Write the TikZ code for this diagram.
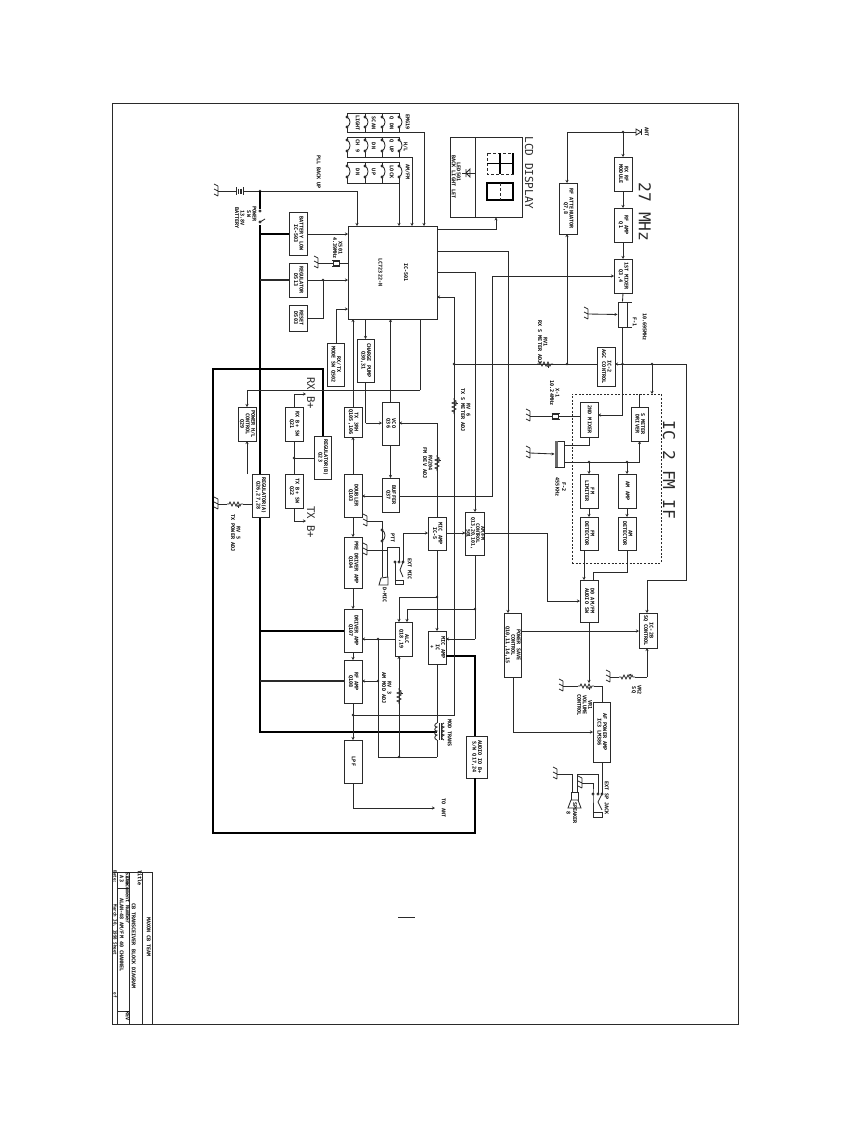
\documentclass[tikz,border=0pt]{standalone}
\usepackage{fontspec}
\setmainfont{DejaVu Sans Mono}
\usetikzlibrary{arrows.meta}
\pgfdeclarelayer{rail}
\pgfsetlayers{rail,main}
\definecolor{ln}{HTML}{2A2A2A}
\newcommand\rot[1]{\rotatebox{-90}{\begin{tabular}{@{}c@{}}#1\end{tabular}}}
\newcommand\bx[6]{\node[blk,minimum width={(#4-#2)*1pt},minimum height={(#5-#3)*1pt}] (#1) at ({(#2+#4)/2},{(#3+#5)/2}) {\rot{#6}};}
\newcommand\lbt[4]{\node[lbl] (#1) at (#2,#3) {\rot{#4}};}
\newcommand\bigt[4]{\node[biglbl] (#1) at (#2,#3) {\rotatebox{-90}{#4}};}
\newcommand\jn[2]{\fill[ln] (#1,#2) circle (1.3pt);}
\newcommand\gn[2]{\draw[wire] (#1,#2-5)--(#1,#2+5) (#1,#2-5)--(#1-4,#2-7) (#1,#2)--(#1-4,#2-2) (#1,#2+5)--(#1-4,#2+3);}
\newcommand\swc[5]{\draw[wire] (#1,#2)--(#1,#3) (#1,#4)--(#1,#5);
 \draw[wire,fill=white] (#1,#3) circle (1.1pt) (#1,#4) circle (1.1pt);
 \draw[wire] (#1,#3) .. controls (#1+4,#3+2) and (#1+4,#4-2) .. (#1,#4);}
\tikzset{
 wire/.style={draw=ln,line width=0.85pt},
 heavy/.style={draw=black,line width=2.2pt},
 arr/.style={wire,-{Stealth[length=3pt,width=3pt]}},
 blk/.style={draw=ln,line width=1pt,fill=white,inner sep=0pt,outer sep=0pt,font=\bfseries\fontsize{5.1}{5.6}\selectfont},
 lbl/.style={inner sep=0pt,outer sep=0pt,font=\bfseries\fontsize{5.1}{5.6}\selectfont},
 biglbl/.style={inner sep=0pt,outer sep=0pt,font=\fontsize{16.3}{17}\selectfont,text=ln},
 frame/.style={draw=ln,line width=0.9pt},
 varres/.pic={\draw[wire] (-8,0)--(-6,0)--(-5,-2)--(-3,2)--(-1,-2)--(1,2)--(3,-2)--(5,2)--(6,0)--(8,0);
   \draw[wire,-{Stealth[length=2.5pt,width=2.5pt]}] (3,3.5)--(3,0.5);},
 xtal/.pic={\draw[wire] (-3,-4)--(-3,4) (3,-4)--(3,4); \draw[wire,fill=white] (-2,-3) rectangle (2,3);},
}
\begin{document}
\begin{tikzpicture}[x=1pt,y=-1pt]
\useasboundingbox (0,0) rectangle (866,1122);
% sheet frame and title block
\draw[frame] (112,103) rectangle (738,1024);
\draw[wire] (152,872)--(152,1024) (142,872)--(142,1024) (112,872)--(152,872)
 (129,872)--(129,1024) (117,872)--(117,1024) (117,888)--(129,888) (117,1011)--(129,1011);
\lbt{t1}{148}{937}{MAXON CB TEAM}
\lbt{t2}{139}{878}{Title}
\lbt{t3}{133}{946}{CB TRANSCEIVER BLOCK DIAGRAM}
\lbt{t4}{127}{879}{Size}
\lbt{t5}{121}{879}{A3}
\lbt{t6}{127}{901}{Document Number}
\lbt{t7}{121}{935}{ALAN-48 AM/FM 40 CHANNEL}
\lbt{t8}{127}{1016}{REV}
\node[lbl,font=\bfseries\fontsize{4.2}{4.6}\selectfont] (t9) at (114.5,877) {\rot{Date:}};
\node[lbl,font=\bfseries\fontsize{4.2}{4.6}\selectfont] (t10) at (114.5,930) {\rot{March 30, 1998 Sheet}};
\node[lbl,font=\bfseries\fontsize{4.2}{4.6}\selectfont] (t11) at (114.5,995) {\rot{of}};
\draw[wire] (398,917)--(415,917);
% heavy supply rail that runs behind the regulator box
\begin{pgfonlayer}{rail}
\draw[heavy] (260,225)--(260,732)--(437,732);
\end{pgfonlayer}
% boxes
\bx{bat}{289}{212}{307}{255}{BATTERY LOW\\IC-503}
\bx{rgd}{289}{263}{307}{297}{REGULATOR\\D513}
\bx{rst}{289}{305}{307}{331}{RESET\\D503}
\bx{ic}{348}{226}{437}{319}{IC-501\\[20pt]LC72322-N}
\bx{mode}{327}{343}{344}{386}{RX/TX\\MODE SW Q502}
\bx{cp}{357}{339}{374}{382}{CHARGE PUMP\\Q30,31}
\bx{tx}{344}{407}{362}{437}{TX 3RH\\Q105,106}
\bx{vco}{382}{402}{399}{445}{VCO\\Q36}
\bx{buf}{382}{478}{399}{512}{BUFFER\\Q37}
\bx{dbl}{344}{474}{362}{517}{DOUBLER\\Q103}
\bx{pre}{344}{537}{362}{588}{PRE DRIVER AMP\\Q104}
\bx{drv}{344}{609}{362}{652}{DRIVER AMP\\Q107}
\bx{rfa}{344}{660}{362}{703}{RF AMP\\Q108}
\bx{lpf}{344}{740}{362}{783}{LPF}
\bx{pwr}{238}{407}{256}{441}{POWER H/L\\CONTROL\\Q29}
\bx{rga}{252}{474}{269}{517}{REGULATOR(A)\\Q26,27,28}
\bx{rxs}{285}{407}{303}{441}{RX B+ SW\\Q21}
\bx{txs}{285}{474}{303}{508}{TX B+ SW\\Q22}
\bx{rgb}{314}{436}{331}{479}{REGULATOR(B)\\Q23}
\bx{mic}{428}{517}{446}{550}{MIC AMP\\IC-5}
\bx{alc}{395}{622}{412}{656}{ALC\\Q18,19}
\bx{mod}{428}{631}{446}{664}{MIC AMP\\IC\\+}
\node[blk,font=\bfseries\fontsize{4.9}{5.6}\selectfont\def\arraystretch{.72},minimum width=16pt,minimum height=43pt] (ctl) at (475,533.5) {\rot{AM/FM\\CONTROL\\Q13,20,101,\\501}};
\bx{sav}{504}{613}{521}{677}{POWER SAVE\\CONTROL\\Q10,11,14,15}
\bx{dd}{580}{580}{598}{622}{D0 AM/FM\\AUDIO SW}
\bx{sq}{639}{613}{657}{648}{IC-2B\\SQ CONTROL}
\bx{af}{593}{702}{610}{762}{AF POWER AMP\\IC3 LM386}
\bx{agc}{597}{347}{615}{386}{IC-2\\AGC CONTROL}
\bx{mx2}{580}{402}{598}{437}{2ND MIXER}
\bx{sm}{631}{407}{648}{441}{S METER\\DRIVER}
\bx{lim}{580}{474}{598}{508}{FM\\LIMITER}
\bx{ama}{618}{474}{636}{508}{AM AMP}
\bx{fmd}{580}{517}{598}{550}{FM\\DETECTOR}
\bx{amd}{618}{517}{636}{550}{AM\\DETECTOR}
\bx{att}{559}{183}{577}{234}{RF ATTENUATOR\\Q7,8}
\bx{rxm}{614}{157}{632}{191}{RX RF\\MODULE}
\bx{rf1}{614}{208}{632}{242}{RF AMP\\Q1}
\bx{mx1}{614}{259}{632}{293}{1ST MIXER\\Q3,4}
\bx{aud}{466}{736}{487}{778}{AUDIO IO B+\\S/W Q17,24}
\node[draw=ln,line width=0.9pt,dash pattern=on 2pt off 1.6pt,minimum width=89pt,minimum height=169pt,inner sep=0pt] (if2) at (616.5,478.5) {};
% LCD
\node[frame,minimum width=72pt,minimum height=80pt,inner sep=0pt] (lcd) at (486,177) {};
\draw[wire] (475,137)--(475,217);
\draw[wire,densely dashed] (487,153) rectangle (513,174);
\draw[line width=1.4pt] (500,153)--(500,174) (487,163.5)--(513,163.5) (513,153)--(513,174);
\draw[line width=1.4pt] (487,183) rectangle (513,200);
\draw[wire,densely dashed] (500,183)--(500,200);
\draw[wire] (462,173)--(475,173);
\draw[wire] (470,169)--(470,177)--(466,173)--cycle (466,169)--(466,177);
\lbt{led}{458}{172}{LED501}
\lbt{ledb}{453}{177}{BACK LIGHT LET}
\node[biglbl,font=\fontsize{11}{12}\selectfont] (lcdt) at (529,173) {\rotatebox{-90}{LCD DISPLAY}};
\bigt{mhz}{645}{212}{27 MHz}
\bigt{ift}{669}{470}{IC 2 FM IF}
\node[biglbl,font=\fontsize{10.6}{12}\selectfont] (rxb) at (311,393) {\rotatebox{-90}{RX B+}};
\node[biglbl,font=\fontsize{10.6}{12}\selectfont] (txb) at (311,522) {\rotatebox{-90}{TX B+}};
% switch banks
\draw[wire] (347,113)--(399,113) (347,137)--(399,137) (347,162)--(399,162)
 (347,132)--(424,132) (347,157)--(412,157) (347,183)--(399,183);
\foreach \c in {347,365,382,399}{
 \swc{\c}{113}{117}{127}{132}
 \swc{\c}{137}{140}{151}{157}
 \swc{\c}{162}{166}{177}{183}}
\draw[arr] (424,132)--(ic.north -| 424,0);
\draw[arr] (412,157)--(ic.north -| 412,0);
\draw[arr] (399,183)--(ic.north -| 399,0);
\lbt{s1}{357}{123}{LIGHT}\lbt{s2}{373}{123}{SCAN}\lbt{s3}{391}{123}{Q DN}\lbt{s4}{407}{122}{EMG19}
\lbt{s5}{357}{146}{CH 9}\lbt{s6}{373}{146}{DN}\lbt{s7}{391}{146}{Q UP}\lbt{s8}{405}{147}{H/L}
\lbt{s9}{357}{172}{DN}\lbt{s10}{373}{172}{UP}\lbt{s11}{391}{172}{LOCK}\lbt{s12}{407}{172}{AM/FM}
% battery, power switch
\gn{218}{191}
\draw[wire] (218,191)--(236,191) (243,191)--(260,191);
\draw[line width=0.9pt,draw=ln] (236,187)--(236,195) (243,187)--(243,195);
\draw[line width=1.5pt,draw=ln] (238.5,188.5)--(238.5,193.5) (241,188.5)--(241,193.5);
\draw[arr] (260,191) -| (ic.north -| 357,0);
\jn{260}{191}
\draw[heavy] (260,191)--(260,209);
\draw[wire,fill=white] (260,211) circle (1.1pt) (260,222) circle (1.1pt);
\draw[wire] (260,222)--(265,219);
\lbt{b1}{239}{218}{13.8V\\BATTERY}
\lbt{b2}{251}{214}{POWER\\SW}
\lbt{b3}{318}{172}{PLL BACK UP}
% power rails to boxes
\draw[heavy] (260,234)--(bat.west |- 0,234);
\draw[wire,line width=1.3pt] (260,280)--(rgd.west |- 0,280);
\draw[heavy] (260,631)--(drv.west |- 0,631);
\draw[wire,line width=1.3pt] (260,681)--(rfa.west |- 0,681);
\draw[heavy] (rgb.north -| 323,0)--(323,369)--(213,369)--(213,833)--(475,833)--(aud.south -| 475,0);
\draw[heavy] (aud.north -| 475,0)--(475,656)--(mod.east |- 0,656);
% IC connections, left
\draw[arr] (bat.east |- 0,234)--(ic.west |- 0,234);
\draw[arr] (rgd.east |- 0,280)--(ic.west |- 0,280);
\jn{323}{280}
\draw[wire] (323,280)--(323,318)--(rst.east |- 0,318);
\draw[arr] (mode.north -| 336,0)--(336,309)--(ic.west |- 0,309);
\gn{318}{263}
\draw[wire] (318,263)--(333,263) (339,263)--(ic.west |- 0,263);
\pic at (336,263) [rotate=90] {xtal};
\lbt{x1}{337}{248}{X501\\4.39MHz}
% IC connections, bottom
\draw[arr] (tx.north)--(ic.south -| tx.north);
\draw[arr] (ic.south -| cp.north)--(cp.north);
\draw[arr] (vco.north)--(ic.south -| vco.north);
\draw[wire] (ic.south -| 420,0)--(420,390);
\draw[arr] (420,390) -| (pwr.north -| 247,0);
\draw[wire] (cp.south)--(cp.south |- 0,423);
\draw[arr] (cp.south |- 0,423)--(vco.west |- 0,423);
\draw[arr] (vco.south)--(buf.north);
\draw[arr] (dbl.north)--(tx.south);
\draw[arr] (dbl.south)--(pre.north);
\draw[arr] (pre.south)--(drv.north);
\draw[arr] (drv.south)--(rfa.north);
\draw[arr] (rfa.south)--(lpf.north);
\jn{353}{715}
\draw[arr] (lpf.south)--(353,808)--(435,808);
\lbt{ant2}{443}{808}{TO ANT}
% IC connections, right
\draw[arr] (ic.east |- 0,229)--(496,229)--(lcd.south -| 496,0);
\draw[arr] (ic.east |- 0,251)-|(sav.north -| 508,0);
\draw[arr] (ic.east |- 0,272)-|(ctl.north);
\draw[wire] (buf.east |- 0,496)--(492,496)--(492,276);
\draw[arr] (492,276)--(mx1.west |- 0,276);
\draw[arr] (buf.west |- 0,496)--(dbl.east |- 0,496);
\draw[wire] (353,715)--(454,715)--(454,297);
\draw[arr] (454,297)--(ic.east |- 0,297);
\pic at (454,406) [rotate=90] {varres};
\lbt{r6}{465}{410}{RV 6\\TX S METER ADJ}
% receive front end
\coordinate (antp) at (636,132);
\draw[wire] (antp)--(567,132);
\draw[arr] (567,132)--(att.north -| 567,0);
\draw[arr] (623,132)--(rxm.north);
\jn{623}{132}
\draw[wire,fill=white] (636,129)--(641,132)--(636,135)--cycle;
\draw[wire] (641,129)--(641,135);
\lbt{ant1}{646}{132}{ANT}
\draw[arr] (rxm.south)--(rf1.north);
\draw[arr] (rf1.south)--(mx1.north);
\node[draw=ln,line width=1pt,fill=white,minimum width=9pt,minimum height=25pt,inner sep=0pt] (f1) at (622.5,314.5) {};
\draw[wire] (mx1.south)--(f1.north);
\draw[wire] (f1.south)--(622.5,364);
\draw[arr] (622.5,364)--(622.5,415)--(mx2.east |- 0,415);
\jn{622.5}{364}
\gn{588}{314}
\draw[arr] (588,314)--(f1.west);
\draw[wire] (627,302)--(632,302) (627,327)--(632,327);
\lbt{f1a}{634}{322}{F-1}
\lbt{f1b}{644}{327}{10.695MHz}
\draw[wire] (agc.west |- 0,364)--(454,364);
\draw[arr] (686,364)--(agc.east |- 0,364);
\jn{454}{364}
\jn{567}{364}
\draw[arr] (567,364)--(att.south -| 567,0);
\pic at (545,364) {varres};
\lbt{r1}{542}{342}{RV1\\RX S METER ADJ}
% IC2
\draw[wire] (686,364)--(686,580)--(647,580);
\draw[arr] (647,580)--(sq.north -| 647,0);
\jn{652}{364}
\draw[arr] (652,364)--(652,394);
\draw[wire] (639,394)--(sm.north -| 639,0);
\gn{530}{416}
\draw[wire] (530,416)--(552,416) (559,416)--(mx2.west |- 0,416);
\pic at (555.5,416) [rotate=90] {xtal};
\lbt{x2}{554}{393}{X-1\\10.24MHz}
\node[draw=ln,line width=1pt,fill=white,minimum width=9pt,minimum height=26pt,inner sep=0pt] (f2) at (559.5,454) {};
\fill[ln!70] (555,441) rectangle (558,467);
\gn{530}{453}
\draw[arr] (530,453)--(f2.west);
\draw[wire] (f2.east |- 0,445)--(589,445)--(mx2.south -| 589,0);
\draw[wire] (f2.east |- 0,462)--(639.5,462);
\draw[arr] (639.5,462)--(sm.south -| 639.5,0);
\draw[arr] (589,462)--(lim.north);
\draw[arr] (627,462)--(ama.north);
\jn{589}{462}\jn{627}{462}
\lbt{f2a}{560}{487}{F-2\\[1pt]455KHz}
\draw[arr] (lim.south)--(fmd.north);
\draw[arr] (ama.south)--(amd.north);
\draw[arr] (584,550)--(dd.north -| 584,0);
\draw[wire] (amd.south)--(627,572)--(593,572)--(dd.north -| 593,0);
% AM/FM control, audio
\draw[arr] (mic.east |- 0,533)--(ctl.west |- 0,533);
\draw[wire] (ctl.east |- 0,533)--(547,533);
\draw[arr] (547,533)--(547,601)--(dd.west |- 0,601);
\draw[wire] (ctl.south)--(475,639);
\draw[arr] (475,639)--(mod.east |- 0,639);
\jn{475}{609}
\draw[arr] (475,609)--(407,609)--(alc.north -| 407,0);
\draw[arr] (sav.east |- 0,631)--(sq.west |- 0,631);
\draw[wire] (sav.south -| 513,0)--(513,732);
\draw[arr] (513,732)--(af.west |- 0,732);
\draw[arr] (dd.south -| 589,0)--(589,683);
\gn{563}{686}
\pic at (586,686) {varres};
\draw[wire] (563,686)--(578,686) (594,686)--(602,686)--(af.north -| 602,0);
\lbt{vr}{584}{705}{VR1\\VOLUME\\CONTROL}
\gn{610}{677}
\pic at (627,677) [yscale=-1] {varres};
\draw[wire] (610,677)--(619,677) (635,677)--(647,677);
\draw[arr] (647,677)--(sq.south -| 647,0);
\lbt{vs}{636}{690}{VR2\\SQ}
% speaker
\draw[wire] (af.south -| 602,0)--(602,794);
\draw[wire] (598,794)--(598,774)--(577,774)--(577,792);
\gn{557}{774}
\draw[wire] (557,774)--(572,774)--(572,792);
\gn{582}{783}
\draw[wire] (582,783)--(593,783)--(593,794)--(593,812);
\draw[wire,fill=white] (571,792) rectangle (578,800);
\draw[wire,fill=white] (571,800)--(578,800)--(581,808)--(568,808)--cycle;
\draw[wire,fill=white] (593,794) circle (1.1pt) (598,794) circle (1.1pt) (602,794) circle (1.1pt);
\draw[wire] (602,794)--(598,802)--(602,810);
\draw[wire] (593,812) rectangle (602,817);
\lbt{ej}{606}{798}{EXT SP JACK}
\lbt{spk}{571}{813}{SPEAKER\\[1pt]8}
% mic section
\draw[wire] (403,533)--(403,562);
\draw[arr] (403,533)--(mic.west |- 0,533);
\gn{367}{521}
\draw[wire] (367,521)--(382,521)--(382,577);
\draw[wire,fill=white] (382,530) circle (1.1pt) (382,541) circle (1.1pt);
\draw[wire] (382,530)..controls (386,532) and (386,539)..(382,541);
\lbt{ptt}{392}{538}{PTT}
\gn{367}{550}
\draw[wire] (367,550)--(387,550);
\draw[wire] (387,577)--(387,547)--(399,547)--(399,562);
\draw[wire,fill=white] (379,585)--(381,578)--(388,577)--(388,585)--cycle;
\lbt{dm}{384}{595}{D-MIC}
\draw[wire,fill=white] (395,562) circle (1.1pt) (399,562) circle (1.1pt) (403,562) circle (1.1pt);
\draw[wire] (395,562)--(395,580);
\draw[wire] (403,562)--(400,570)--(403,577);
\draw[wire] (395,580) rectangle (403,584);
\lbt{em}{409}{569}{EXT MIC}
% VCO / modulation chain
\draw[arr] (437,423)--(vco.east |- 0,423);
\draw[wire] (437,423)--(mic.north);
\pic at (437,463) [rotate=90] {varres};
\lbt{r204}{427}{463}{RV204\\FM DEV ADJ}
\draw[arr] (mic.south)--(mod.north);
\jn{437}{597}
\draw[arr] (437,597)--(399,597)--(alc.north -| 399,0);
\draw[arr] (alc.west |- 0,639)--(drv.east |- 0,639);
\jn{378}{639}
\draw[wire] (378,639)--(378,757)--(437,757);
\jn{378}{681}
\draw[arr] (378,681)--(rfa.east |- 0,681);
\jn{399}{757}
\draw[arr] (399,757)--(alc.south -| 399,0);
\pic at (399,696) [rotate=90] {varres};
\lbt{r3}{386}{688}{RV 3\\AM MOD ADJ}
\draw[wire] (mod.south)--(437,723) (437,740)--(437,757);
\draw[wire] (437,723) .. controls (434,724) and (434,727) .. (437,727) .. controls (434,728) and (434,731) .. (437,731) .. controls (434,732) and (434,735) .. (437,735) .. controls (434,736) and (434,739) .. (437,740);
\draw[wire] (439.5,723)--(439.5,740) (441,723)--(441,740);
\draw[wire] (444,723) .. controls (441,724) and (441,727) .. (444,727) .. controls (441,728) and (441,731) .. (444,731) .. controls (441,732) and (441,735) .. (444,735) .. controls (441,736) and (441,739) .. (444,740);
\lbt{mt}{449}{733}{MOD TRANS}
% power distribution on the transmit side
\draw[arr] (rga.north -| 247,0)--(pwr.south -| 247,0);
\draw[wire] (rga.west |- 0,504)--(243,504);
\pic at (235,504) {varres};
\draw[wire] (227,504)--(218,504);
\gn{218}{504}
\lbt{r5}{235}{533}{RV 5\\TX POWER ADJ}
\draw[arr] (rxs.north)--(rxs.north |- 0,394)--(306,394);
\draw[wire] (rxs.south)--(txs.north);
\jn{294}{458}
\draw[wire] (294,458)--(rgb.west |- 0,458);
\draw[arr] (txs.south)--(txs.south |- 0,521)--(306,521);
\end{tikzpicture}
\end{document}
